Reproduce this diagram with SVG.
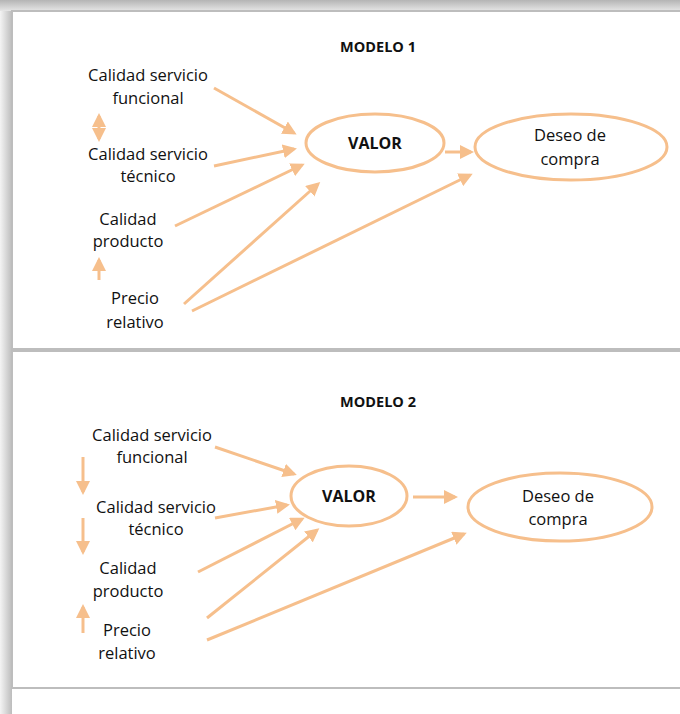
<svg xmlns="http://www.w3.org/2000/svg" width="680" height="714" viewBox="0 0 680 714">
  <defs>
    <linearGradient id="shadeLeft" x1="0" y1="0" x2="1" y2="0">
      <stop offset="0" stop-color="#f4f4f4"/>
      <stop offset="1" stop-color="#bcbcbc"/>
    </linearGradient>
    <linearGradient id="shadeTop" x1="0" y1="0" x2="0" y2="1">
      <stop offset="0" stop-color="#b4b4b4"/>
      <stop offset="1" stop-color="#e6e6e6"/>
    </linearGradient>
    <marker id="head" viewBox="0 0 14 14" markerWidth="14" markerHeight="14" refX="11" refY="7" orient="auto-start-reverse" markerUnits="userSpaceOnUse">
      <path d="M0,0 L14,7 L0,14 z" fill="#f6bf8c"/>
    </marker>
    <style>
      .panel { fill: #ffffff; stroke: #bdbdbd; stroke-width: 2; }
      .node { fill: none; stroke: #f6bf8c; stroke-width: 3; }
      .lbl { font-family: "Open Sans", "Noto Sans", sans-serif; font-size: 16.5px; fill: #111111; text-anchor: middle; }
      .bold { font-family: "Open Sans", "Noto Sans", sans-serif; font-size: 14.5px; font-weight: bold; fill: #111111; text-anchor: middle; }
      .big { font-size: 16px; }
      .conn line { stroke: #f6bf8c; stroke-width: 3; marker-end: url(#head); }
      .conn line.both { marker-start: url(#head); }
    </style>
  </defs>

  <!-- page background and soft frame shadow -->
  <rect x="0" y="0" width="680" height="714" fill="#ffffff"/>
  <rect x="0" y="0" width="12" height="714" fill="url(#shadeLeft)"/>
  <rect x="0" y="0" width="680" height="11" fill="url(#shadeTop)"/>

  <!-- two panels -->
  <rect class="panel" x="12" y="11" width="680" height="338"/>
  <rect class="panel" x="12" y="351" width="680" height="337"/>

  <!-- MODELO 1 -->
  <text class="bold" x="378" y="52">MODELO 1</text>
  <g id="m1-funcional"><text class="lbl" x="148" y="81">Calidad servicio</text><text class="lbl" x="148" y="104">funcional</text></g>
  <g id="m1-tecnico"><text class="lbl" x="148" y="160">Calidad servicio</text><text class="lbl" x="148" y="182">técnico</text></g>
  <g id="m1-producto"><text class="lbl" x="128" y="225">Calidad</text><text class="lbl" x="128" y="247">producto</text></g>
  <g id="m1-precio"><text class="lbl" x="135" y="304">Precio</text><text class="lbl" x="135" y="328">relativo</text></g>
  <g id="m1-valor"><ellipse class="node" cx="375" cy="143" rx="69" ry="29"/><text class="bold big" x="375" y="149">VALOR</text></g>
  <g id="m1-deseo"><ellipse class="node" cx="571" cy="147" rx="96" ry="33"/><text class="lbl" x="570" y="141">Deseo de</text><text class="lbl" x="570" y="165">compra</text></g>

  <!-- MODELO 2 -->
  <text class="bold" x="378" y="407">MODELO 2</text>
  <g id="m2-funcional"><text class="lbl" x="152" y="441">Calidad servicio</text><text class="lbl" x="152" y="463">funcional</text></g>
  <g id="m2-tecnico"><text class="lbl" x="156" y="513">Calidad servicio</text><text class="lbl" x="156" y="535">técnico</text></g>
  <g id="m2-producto"><text class="lbl" x="128" y="574">Calidad</text><text class="lbl" x="128" y="597">producto</text></g>
  <g id="m2-precio"><text class="lbl" x="127" y="636">Precio</text><text class="lbl" x="127" y="659">relativo</text></g>
  <g id="m2-valor"><ellipse class="node" cx="349" cy="496" rx="58" ry="30"/><text class="bold big" x="349" y="502">VALOR</text></g>
  <g id="m2-deseo"><ellipse class="node" cx="560" cy="507" rx="92" ry="34"/><text class="lbl" x="558" y="502">Deseo de</text><text class="lbl" x="558" y="525">compra</text></g>

  <!-- connectors -->
  <g id="connectors" class="conn">
    <!-- model 1 -->
    <line class="both" x1="99" y1="116" x2="99" y2="139"/>
    <line x1="99" y1="280" x2="99" y2="260"/>
    <line x1="214" y1="88" x2="294" y2="133"/>
    <line x1="214" y1="166" x2="294" y2="149"/>
    <line x1="175" y1="226" x2="302" y2="165"/>
    <line x1="184" y1="304" x2="318" y2="184"/>
    <line x1="192" y1="311" x2="470" y2="175"/>
    <line x1="445" y1="152" x2="471" y2="152"/>
    <!-- model 2 -->
    <line x1="83" y1="457" x2="83" y2="492"/>
    <line x1="83" y1="518" x2="83" y2="552"/>
    <line x1="83" y1="633" x2="83" y2="607"/>
    <line x1="215" y1="447" x2="294" y2="474"/>
    <line x1="215" y1="518" x2="287" y2="505"/>
    <line x1="198" y1="572" x2="302" y2="519"/>
    <line x1="207" y1="618" x2="317" y2="530"/>
    <line x1="207" y1="640" x2="464" y2="534"/>
    <line x1="413" y1="497" x2="455" y2="497"/>
  </g>
</svg>
